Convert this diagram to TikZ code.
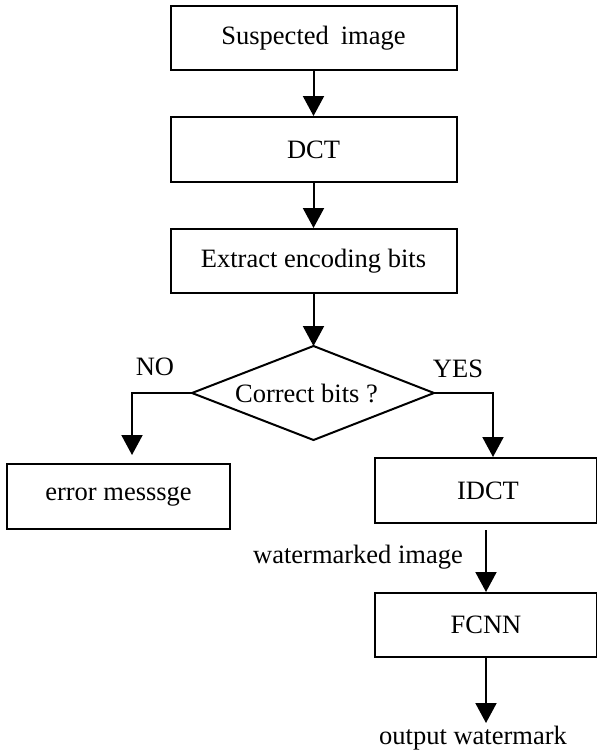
\documentclass[tikz,border=0pt]{standalone}
\usepackage{fontspec}
\setmainfont{Liberation Serif}
\usetikzlibrary{shapes.geometric,arrows.meta}
\begin{document}
\begin{tikzpicture}[x=1pt,y=-1pt,
  font=\fontsize{26.5}{30}\selectfont,
  box/.style={draw,line width=2pt,rectangle,inner sep=0pt,minimum height=64pt},
  arr/.style={line width=2pt,-{Triangle[length=20pt,width=21pt]}},
  lbl/.style={inner sep=0pt}]
\useasboundingbox (0,0) rectangle (597,750);
\node[box,minimum width=286pt] (sus) at (313.5,38) {Suspected\hspace{0.2em} image};
\node[box,minimum width=286pt,minimum height=65pt] (dct) at (313.5,149.5) {DCT};
\node[box,minimum width=286pt] (ext) at (313.5,261) {Extract encoding bits};
\coordinate (dtop) at (313.5,346);
\coordinate (dleft) at (192,393);
\coordinate (dright) at (434,393);
\coordinate (dbot) at (313.5,440);
\draw[line width=2pt,line join=miter] (dtop) -- (dright) -- (dbot) -- (dleft) -- cycle;
\node[lbl] (dia) at (306.5,393) {Correct bits ?};
\node[box,minimum width=223pt,minimum height=65pt] (err) at (118.5,496.5) {error messsge};
\node[box,minimum width=222pt,minimum height=65pt] (idct) at (486,490.5) {};
\node[lbl] (idctt) at (488,490.5) {IDCT};
\node[box,minimum width=222pt] (fcnn) at (486,625) {FCNN};
\node[lbl] (no) at (155,367) {NO};
\node[lbl] (yes) at (458,369) {YES};
\node[lbl] (wm) at (358,557) {watermarked image};
\node[lbl] (out) at (473,738) {output watermark};
\coordinate (noend) at (132,455);
\coordinate (yesend) at (493,457);
\coordinate (outend) at (486,723);
\draw[arr] (sus.south) -- (dct.north);
\draw[arr] (dct.south) -- (ext.north);
\draw[arr] (ext.south) -- (dtop);
\draw[arr] (dleft) -| (noend);
\draw[arr] (dright) -| (yesend);
\draw[arr,shorten <=6pt] (idct.south) -- (fcnn.north);
\draw[arr] (fcnn.south) -- (outend);
\end{tikzpicture}
\end{document}
